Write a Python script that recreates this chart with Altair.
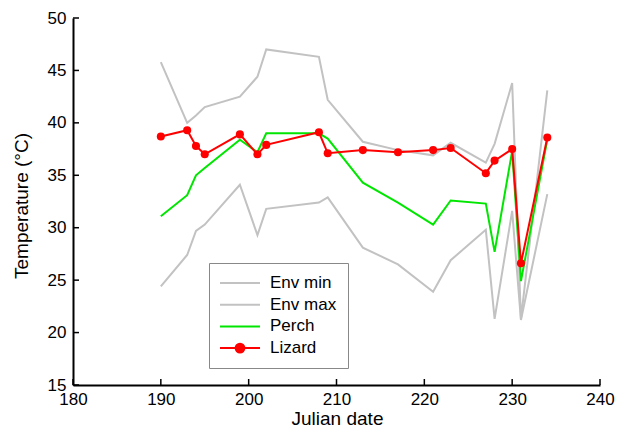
import altair as alt
import pandas as pd

# ---- data ----
days = [190, 193, 194, 195, 199, 201, 202, 208, 209, 213, 217, 221, 223, 227, 228, 230, 231, 234]
env_min = [24.4, 27.4, 29.7, 30.3, 34.1, 29.3, 31.8, 32.4, 32.9, 28.1, 26.5, 23.9, 26.9, 29.8, 21.3, 31.6, 21.2, 33.2]
env_max = [45.8, 40.0, 40.7, 41.5, 42.5, 44.4, 47.0, 46.3, 42.2, 38.2, 37.4, 36.9, 38.1, 36.2, 38.0, 43.8, 21.3, 43.1]
perch = [31.1, 33.1, 35.0, 35.7, 38.4, 37.2, 39.0, 39.0, 38.5, 34.3, 32.4, 30.3, 32.6, 32.3, 27.7, 37.3, 24.9, 38.4]
lizard = [38.7, 39.3, 37.8, 37.0, 38.9, 37.0, 37.9, 39.1, 37.1, 37.4, 37.2, 37.4, 37.6, 35.2, 36.4, 37.5, 26.6, 38.6]

series_names = ["Env min", "Env max", "Perch", "Lizard"]
series_colors = ["#c2c2c2", "#c2c2c2", "#00e600", "#ff0000"]
x_ticks = [180, 190, 200, 210, 220, 230, 240]
y_ticks = [15, 20, 25, 30, 35, 40, 45, 50]

W, H = 527, 367
FONT = "Liberation Sans"

rows = []
for name, vals in zip(series_names, [env_min, env_max, perch, lizard]):
    for d, v in zip(days, vals):
        rows.append({"day": d, "temp": v, "series": name})
df = pd.DataFrame(rows)
xt = pd.DataFrame({"t": x_ticks})
yt = pd.DataFrame({"t": y_ticks})

xsc = alt.Scale(domain=[180, 240], nice=False, zero=False)
ysc = alt.Scale(domain=[15, 50], nice=False, zero=False)

x_axis = alt.Axis(values=x_ticks, title="Julian date", tickSize=0, labelPadding=6,
                  labelFlush=False, labelOverlap=False,
                  titleX=264, titleY=33, titleBaseline="middle", titleAlign="center")
y_axis = alt.Axis(values=y_ticks, title="Temperature (°C)", tickSize=0, labelPadding=7,
                  labelFlush=False, labelOverlap=False,
                  titleX=-52, titleY=H / 2 + 4, titleAlign="center", titleBaseline="middle",
                  titleAngle=270)

X = alt.X("day:Q", scale=xsc, axis=x_axis)
Y = alt.Y("temp:Q", scale=ysc, axis=y_axis)

base = alt.Chart(df)

layers = []
for name, col in zip(series_names, series_colors):
    layers.append(
        base.transform_filter(alt.datum.series == name)
        .mark_line(color=col, strokeWidth=2)
        .encode(x=X, y=Y)
    )

points = (
    base.transform_filter(alt.datum.series == "Lizard")
    .mark_point(filled=True, size=65, color="#ff0000", opacity=1)
    .encode(x=X, y=Y)
)

line_path = "M-1.125,0H3.875"
dot_path = "M-1.125,0H3.875M1.925,0A0.55,0.55,0,1,1,0.825,0A0.55,0.55,0,1,1,1.925,0Z"
paths = [line_path, line_path, line_path, dot_path]

leg = alt.Legend(orient="none", legendX=136, legendY=245, title=None,
                 symbolSize=256, symbolStrokeWidth=2, labelFont=FONT,
                 labelFontSize=17, labelColor="black", labelOffset=32,
                 padding=11, fillColor="white", strokeColor="#888888",
                 rowPadding=4.7)

legend_layer = (
    base.transform_filter("false")
    .mark_point(filled=True, size=256, strokeWidth=2, opacity=1)
    .encode(
        x=X, y=Y,
        fill=alt.Fill("series:N", scale=alt.Scale(domain=series_names, range=series_colors), legend=leg),
        stroke=alt.Stroke("series:N", scale=alt.Scale(domain=series_names, range=series_colors), legend=leg),
        shape=alt.Shape("series:N", scale=alt.Scale(domain=series_names, range=paths), legend=leg),
    )
)

xtick_layer = alt.Chart(xt).mark_rule(color="black", strokeWidth=1.5).encode(
    x=alt.X("t:Q", scale=xsc, axis=x_axis), y=alt.value(H), y2=alt.value(H - 6))
ytick_layer = alt.Chart(yt).mark_rule(color="black", strokeWidth=1.5).encode(
    y=alt.Y("t:Q", scale=ysc, axis=y_axis), x=alt.value(0), x2=alt.value(6))

chart = (
    alt.layer(*layers, points, legend_layer, xtick_layer, ytick_layer)
    .properties(width=W, height=H, autosize=alt.AutoSizeParams(type="none"),
                padding={"left": 65, "top": 10, "right": 15, "bottom": 48})
    .configure_view(stroke=None)
    .configure_axis(domainColor="black", domainWidth=2, grid=False,
                    labelFont=FONT, labelFontSize=17, labelColor="black",
                    titleFont=FONT, titleFontSize=19, titleFontWeight="normal",
                    titleColor="black")
)

chart.save("out.html", embed_options={"renderer": "svg", "actions": False})
